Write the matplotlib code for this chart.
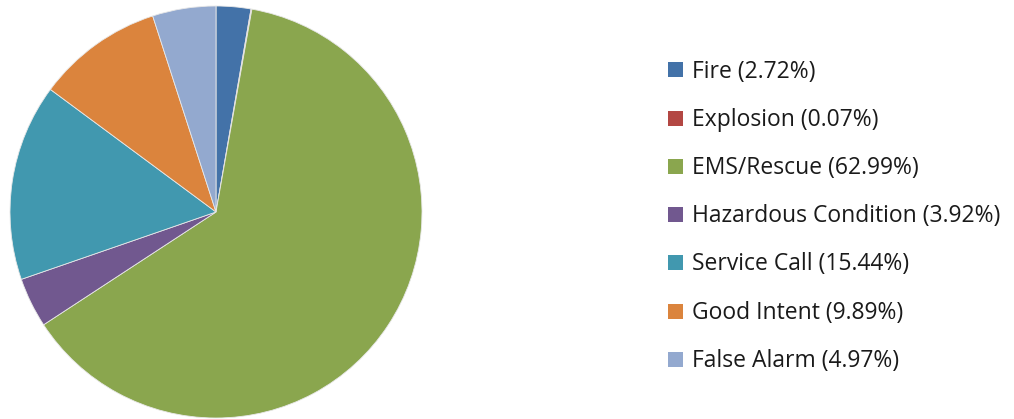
import matplotlib.pyplot as plt
from matplotlib.patches import Rectangle

categories = ['Fire', 'Explosion', 'EMS/Rescue', 'Hazardous Condition',
              'Service Call', 'Good Intent', 'False Alarm']
shares = [2.72, 0.07, 62.99, 3.92, 15.44, 9.89, 4.97]
colors = ['#4372A8', '#B34743', '#8AA64E', '#71588F',
          '#4198AF', '#DB843D', '#93A9CF']

W, H = 1014, 419
fig = plt.figure(figsize=(W / 100, H / 100), dpi=100)

# pie: centre (216, 212) px, radius 206 px
cx, cy, r = 216, 212, 206
ax = fig.add_axes([(cx - r) / W, (H - cy - r) / H, 2 * r / W, 2 * r / H])
ax.pie(shares, colors=colors, startangle=90, counterclock=False,
       wedgeprops=dict(edgecolor='#E8E8E8', linewidth=0.6))
ax.set_xlim(-1, 1)
ax.set_ylim(-1, 1)
ax.set_aspect('equal')
ax.axis('off')

# legend drawn by hand, one row per category
for i, (name, val, c) in enumerate(zip(categories, shares, colors)):
    y = 70 + i * 48.2
    fig.patches.append(Rectangle(((668) / W, (H - y - 7.5) / H), 15 / W, 15 / H,
                                 transform=fig.transFigure, facecolor=c,
                                 edgecolor='none'))
    fig.text(692 / W, (H - y - 1.5) / H, f'{name} ({val:.2f}%)', fontsize=16.5,
             family='Open Sans', va='center', ha='left', color='#1a1a1a')

fig.savefig('out.png', dpi=100)
